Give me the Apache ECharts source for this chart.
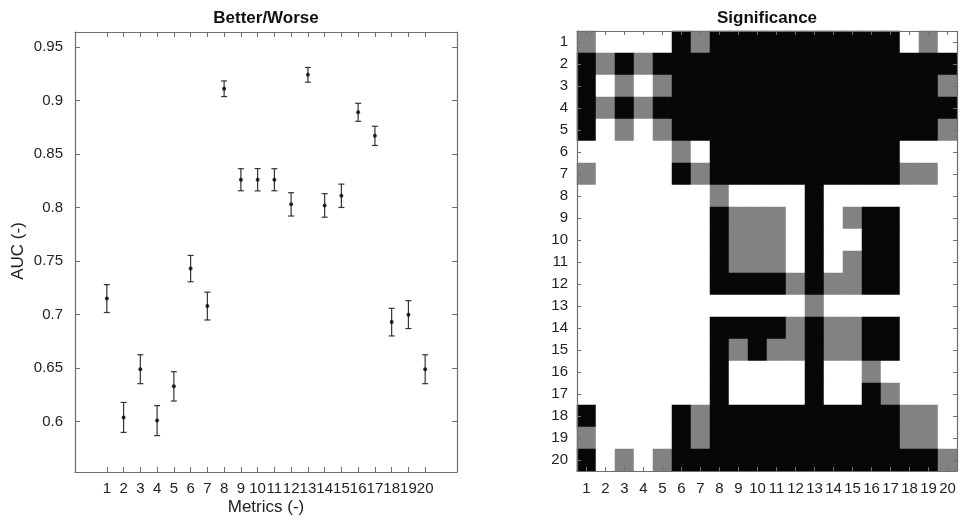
<!DOCTYPE html>
<html>
<head>
<meta charset="utf-8">
<script src="https://cdn.jsdelivr.net/npm/echarts@6/dist/echarts.min.js"></script>
<style>
  html, body { margin: 0; padding: 0; background: #fff; }
  #main { width: 960px; height: 520px; }
</style>
</head>
<body>
<div id="main"></div>
<script>
// metric ids 1..20
var metrics = ['1','2','3','4','5','6','7','8','9','10','11','12','13','14','15','16','17','18','19','20'];
// AUC mean per metric
var auc = [0.715, 0.604, 0.649, 0.601, 0.633, 0.743, 0.708, 0.911, 0.826, 0.826,
           0.826, 0.803, 0.924, 0.802, 0.811, 0.889, 0.867, 0.693, 0.700, 0.649];
// half width of error bars
var aucErr = [0.013, 0.014, 0.0135, 0.014, 0.0137, 0.0123, 0.013, 0.0073, 0.0103, 0.0104,
              0.0103, 0.0109, 0.0069, 0.011, 0.0109, 0.0084, 0.009, 0.0129, 0.013, 0.0135];
var yTicks = [0.6, 0.65, 0.7, 0.75, 0.8, 0.85, 0.9, 0.95];
var xTicks = [1,2,3,4,5,6,7,8,9,10,11,12,13,14,15,16,17,18,19,20];

// significance matrix, 0 = white, 1 = gray, 2 = black (row = metric on y axis)
var sigMatrix = [
  [1,0,0,0,0,2,1,2,2,2,2,2,2,2,2,2,2,0,1,0],
  [2,1,2,1,2,2,2,2,2,2,2,2,2,2,2,2,2,2,2,2],
  [2,0,1,0,1,2,2,2,2,2,2,2,2,2,2,2,2,2,2,1],
  [2,1,2,1,2,2,2,2,2,2,2,2,2,2,2,2,2,2,2,2],
  [2,0,1,0,1,2,2,2,2,2,2,2,2,2,2,2,2,2,2,1],
  [0,0,0,0,0,1,0,2,2,2,2,2,2,2,2,2,2,0,0,0],
  [1,0,0,0,0,2,1,2,2,2,2,2,2,2,2,2,2,1,1,0],
  [0,0,0,0,0,0,0,1,0,0,0,0,2,0,0,0,0,0,0,0],
  [0,0,0,0,0,0,0,2,1,1,1,0,2,0,1,2,2,0,0,0],
  [0,0,0,0,0,0,0,2,1,1,1,0,2,0,0,2,2,0,0,0],
  [0,0,0,0,0,0,0,2,1,1,1,0,2,0,1,2,2,0,0,0],
  [0,0,0,0,0,0,0,2,2,2,2,1,2,1,1,2,2,0,0,0],
  [0,0,0,0,0,0,0,0,0,0,0,0,1,0,0,0,0,0,0,0],
  [0,0,0,0,0,0,0,2,2,2,2,1,2,1,1,2,2,0,0,0],
  [0,0,0,0,0,0,0,2,1,2,1,1,2,1,1,2,2,0,0,0],
  [0,0,0,0,0,0,0,2,0,0,0,0,2,0,0,1,0,0,0,0],
  [0,0,0,0,0,0,0,2,0,0,0,0,2,0,0,2,1,0,0,0],
  [2,0,0,0,0,2,1,2,2,2,2,2,2,2,2,2,2,1,1,0],
  [1,0,0,0,0,2,1,2,2,2,2,2,2,2,2,2,2,1,1,0],
  [2,0,1,0,1,2,2,2,2,2,2,2,2,2,2,2,2,2,2,1]
];

var axisCol = '#6e6e6e';
var txtCol = '#222';
var font = 'Liberation Sans, Arial, Helvetica, sans-serif';

var errData = [], dotData = [];
for (var i = 0; i < auc.length; i++) {
    errData.push([i + 1, auc[i], aucErr[i]]);
    dotData.push([i + 1, auc[i]]);
}
var heatData = [];
for (var r = 0; r < sigMatrix.length; r++) {
    for (var c = 0; c < sigMatrix[r].length; c++) {
        heatData.push([c, r, sigMatrix[r][c]]);
    }
}

function valueAxis(extra) {
    var base = {
        type: 'value',
        axisLine: { show: true, onZero: false, lineStyle: { color: axisCol, width: 1.2 } },
        axisTick: { show: true, inside: true, length: 5, lineStyle: { color: axisCol } },
        axisLabel: { show: false },
        splitLine: { show: false },
        z: 10
    };
    return Object.assign(base, extra);
}
function catAxis(extra) {
    var base = {
        type: 'category',
        data: metrics,
        gridIndex: 1,
        axisLine: { show: true, onZero: false, lineStyle: { color: axisCol, width: 1.2 } },
        axisTick: { show: true, inside: true, length: 4, alignWithLabel: true, interval: 0,
                    lineStyle: { color: axisCol } },
        axisLabel: { show: false },
        splitLine: { show: false },
        z: 10
    };
    return Object.assign(base, extra);
}

var chart = echarts.init(document.getElementById('main'));
chart.setOption({
    animation: false,
    backgroundColor: '#fff',
    textStyle: { fontFamily: font },
    grid: [
        { left: 75, top: 32, width: 382, height: 440 },
        { left: 577, top: 31, width: 380, height: 440 }
    ],
    xAxis: [
        valueAxis({ gridIndex: 0, position: 'bottom', min: -0.9, max: 21.9,
            axisTick: { show: true, inside: true, length: 5, customValues: xTicks, lineStyle: { color: axisCol } },
            axisLabel: { show: true, customValues: xTicks, fontSize: 15, color: txtCol, margin: 9, fontFamily: font } }),
        valueAxis({ gridIndex: 0, position: 'top', min: -0.9, max: 21.9,
            axisTick: { show: true, inside: true, length: 5, customValues: xTicks, lineStyle: { color: axisCol } } }),
        catAxis({ position: 'bottom',
            axisLabel: { show: true, interval: 0, fontSize: 15, color: txtCol, margin: 10, fontFamily: font } }),
        catAxis({ position: 'top' })
    ],
    yAxis: [
        valueAxis({ gridIndex: 0, position: 'left', min: 0.553, max: 0.964,
            axisTick: { show: true, inside: true, length: 5, customValues: yTicks, lineStyle: { color: axisCol } },
            axisLabel: { show: true, customValues: yTicks, fontSize: 15, color: txtCol, margin: 12, fontFamily: font,
                formatter: function (v) { return String(Math.round(v * 100) / 100); } } }),
        valueAxis({ gridIndex: 0, position: 'right', min: 0.553, max: 0.964,
            axisTick: { show: true, inside: true, length: 5, customValues: yTicks, lineStyle: { color: axisCol } } }),
        catAxis({ position: 'left', inverse: true,
            axisLabel: { show: true, interval: 0, fontSize: 15, color: txtCol, margin: 9, fontFamily: font } }),
        catAxis({ position: 'right', inverse: true })
    ],
    visualMap: {
        show: false,
        type: 'piecewise',
        seriesIndex: 2,
        dimension: 2,
        pieces: [
            { value: 0, color: '#ffffff' },
            { value: 1, color: '#828282' },
            { value: 2, color: '#070707' }
        ]
    },
    series: [
        {
            type: 'custom',
            xAxisIndex: 0, yAxisIndex: 0,
            data: errData,
            renderItem: function (params, api) {
                var x = api.value(0), y = api.value(1), e = api.value(2);
                var top = api.coord([x, y + e]);
                var bot = api.coord([x, y - e]);
                var st = { stroke: '#333', lineWidth: 1.2 };
                return {
                    type: 'group',
                    children: [
                        { type: 'line', shape: { x1: top[0], y1: top[1], x2: bot[0], y2: bot[1] }, style: st },
                        { type: 'line', shape: { x1: top[0] - 3, y1: top[1], x2: top[0] + 3, y2: top[1] }, style: st },
                        { type: 'line', shape: { x1: bot[0] - 3, y1: bot[1], x2: bot[0] + 3, y2: bot[1] }, style: st }
                    ]
                };
            }
        },
        {
            type: 'scatter',
            xAxisIndex: 0, yAxisIndex: 0,
            data: dotData,
            symbolSize: 4,
            itemStyle: { color: '#000' },
            z: 5
        },
        {
            type: 'heatmap',
            xAxisIndex: 2, yAxisIndex: 2,
            data: heatData,
            itemStyle: { borderWidth: 0 },
            emphasis: { disabled: true }
        }
    ],
    graphic: [
        { type: 'text', x: 266, y: 18, style: { text: 'Better/Worse', font: 'bold 17px ' + font, fill: '#111', textAlign: 'center', textVerticalAlign: 'middle' } },
        { type: 'text', x: 767, y: 18, style: { text: 'Significance', font: 'bold 17px ' + font, fill: '#111', textAlign: 'center', textVerticalAlign: 'middle' } },
        { type: 'text', x: 266, y: 507, style: { text: 'Metrics (-)', font: '17px ' + font, fill: txtCol, textAlign: 'center', textVerticalAlign: 'middle' } },
        { type: 'text', x: 18, y: 251, rotation: Math.PI / 2, style: { text: 'AUC (-)', font: '17px ' + font, fill: txtCol, textAlign: 'center', textVerticalAlign: 'middle' } }
    ]
});
</script>
</body>
</html>
